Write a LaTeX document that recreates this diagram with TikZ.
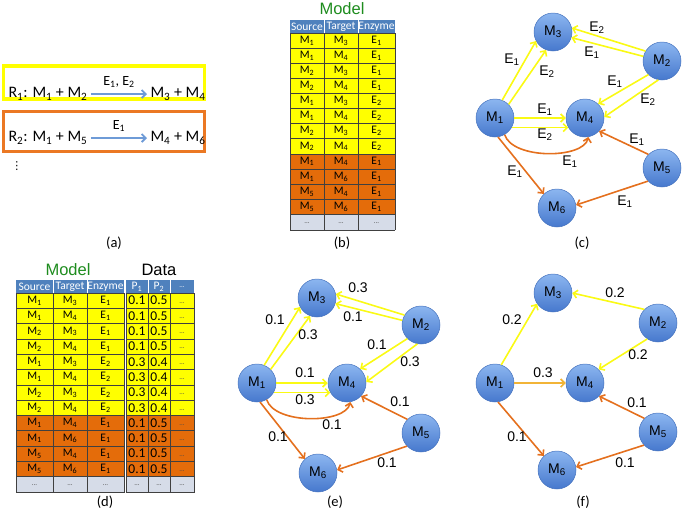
\documentclass[tikz,border=0pt]{standalone}
\usepackage{fontspec}
\setmainfont{Carlito}
\newfontfamily\graphfont{Liberation Sans}
\newfontfamily\symfont{DejaVu Sans}
\usetikzlibrary{arrows.meta}

\definecolor{hdrblue}{RGB}{79,129,189}
\definecolor{rowyel}{RGB}{255,255,0}
\definecolor{roworn}{RGB}{228,108,10}
\definecolor{rowdot}{RGB}{214,220,232}
\definecolor{edgeyel}{RGB}{250,250,20}
\definecolor{edgeorn}{RGB}{228,112,30}
\definecolor{edgemix}{RGB}{242,180,55}
\definecolor{boxorn}{RGB}{235,120,35}
\definecolor{rxnblue}{RGB}{110,155,215}
\definecolor{nodetop}{RGB}{140,182,240}
\definecolor{nodebot}{RGB}{70,120,205}
\definecolor{nodeline}{RGB}{70,115,190}
\definecolor{modelgreen}{RGB}{30,140,30}

\newcommand{\ix}[1]{\textsubscript{#1}}
\newcommand{\fsz}[1]{\fontsize{#1}{#1}\selectfont}

% source/target/enzyme/P1/P2/colour of each table row
\def\modelrows{1/3/1/0.1/0.5/rowyel,1/4/1/0.1/0.5/rowyel,2/3/1/0.1/0.5/rowyel,2/4/1/0.1/0.5/rowyel,%
1/3/2/0.3/0.4/rowyel,1/4/2/0.3/0.4/rowyel,2/3/2/0.3/0.4/rowyel,2/4/2/0.3/0.4/rowyel,%
1/4/1/0.1/0.5/roworn,1/6/1/0.1/0.5/roworn,5/4/1/0.1/0.5/roworn,5/6/1/0.1/0.5/roworn}

\tikzset{
  metab/.style={circle, minimum size=38pt, inner sep=0pt, draw=nodeline, line width=0.5pt,
    top color=nodetop, bottom color=nodebot, font=\graphfont\fsz{14}},
  ylarrow/.style={draw=edgeyel, line width=1.6pt, -{Straight Barb[length=4pt,width=8pt]}},
  orarrow/.style={ylarrow, draw=edgeorn},
  mixarrow/.style={ylarrow, draw=edgemix},
  wlabel/.style={font=\graphfont\fsz{14}, inner sep=0pt},
  rxn/.style={font=\fsz{16}},
  rxnarrow/.style={draw=rxnblue, line width=1.8pt, -{Straight Barb[length=4pt,width=8pt]}},
  cell/.style={font=\fsz{11.5}, inner sep=0pt},
  hdr/.style={font=\fsz{11.5}, text=white, inner sep=0pt},
  num/.style={font=\fsz{13.5}, inner sep=0pt},
  dots/.style={font=\fsz{7}, text=black!70, inner sep=0pt},
  tline/.style={draw=black!75, line width=0.5pt},
  caption/.style={font=\fsz{14.5}},
  title/.style={font=\graphfont\fsz{16.5}},
}

\begin{document}
\begin{tikzpicture}[x=1pt, y=-1pt]
    \useasboundingbox (0,0) rectangle (685,517);

    % (a) reactions
    \draw[draw=rowyel, line width=3.3pt] (3.5,66) rectangle (204.5,99);
    \draw[draw=boxorn, line width=3.3pt] (3.5,111.5) rectangle (204.5,151.5);
    \node[rxn, anchor=west] (r1-in) at (5,94) {R\ix{1}: M\ix{1} + M\ix{2}};
    \node[rxn, anchor=west] (r1-out) at (147,94) {M\ix{3} + M\ix{4}};
    \draw[rxnarrow] (r1-in) -- (r1-out) node[midway, above=2pt, font=\fsz{14}] {E\ix{1}, E\ix{2}};
    \node[rxn, anchor=west] (r2-in) at (5,138) {R\ix{2}: M\ix{1} + M\ix{5}};
    \node[rxn, anchor=west] (r2-out) at (147,138) {M\ix{4} + M\ix{6}};
    \draw[rxnarrow] (r2-in) -- (r2-out) node[midway, above=2pt, font=\fsz{14}] {E\ix{1}};
    \node[font=\symfont\fsz{11}, inner sep=0pt] (r-more) at (17,166) {⋮};

    % (b) model table
    \node[title, text=modelgreen] (b-title) at (342,9) {Model};
    \begin{scope}[shift={(290,20)}]
        \fill[hdrblue] (0,0) rectangle (105,13);
        \node[hdr] (b-h1) at (17,6.5) {Source};
        \node[hdr] (b-h2) at (51,6.5) {Target};
        \node[hdr] (b-h3) at (86.5,6.5) {Enzyme};
        \foreach \src/\tgt/\enz/\pone/\ptwo/\rowcol [count=\i] in \modelrows {
            \fill[fill=\rowcol] (0,{13+(\i-1)*15.1}) rectangle (105,{13+\i*15.1});
            \node[cell] (b-\i-1) at (17,{13+(\i-0.5)*15.1}) {M\ix{\src}};
            \node[cell] (b-\i-2) at (51,{13+(\i-0.5)*15.1}) {M\ix{\tgt}};
            \node[cell] (b-\i-3) at (86.5,{13+(\i-0.5)*15.1}) {E\ix{\enz}};
        }
        \fill[rowdot] (0,194.2) rectangle (105,210.2);
        \node[dots] (b-13-1) at (17,203) {...};
        \node[dots] (b-13-2) at (51,203) {...};
        \node[dots] (b-13-3) at (86.5,203) {...};
        \foreach \k in {0,...,12}
            \draw[tline] (0,{13+\k*15.1}) -- (105,{13+\k*15.1});
        \draw[tline] (0,210.2) -- (105,210.2);
        \draw[tline] (0,13) -- (0,210.2) (34,13) -- (34,210.2) (68,13) -- (68,210.2) (105,13) -- (105,210.2);
        \draw[white, line width=0.8pt] (34,0) -- (34,13) (68,0) -- (68,13);
    \end{scope}

    % (d) model and data tables
    \node[title, text=modelgreen] (d-title1) at (68,270) {Model};
    \node[title] (d-title2) at (159,270) {Data};
    \begin{scope}[shift={(16,280)}]
        \fill[hdrblue] (0,0) rectangle (108,13);
        \fill[hdrblue] (110,0) rectangle (178,13);
        \node[hdr] (d-h1) at (18.5,6.5) {Source};
        \node[hdr] (d-h2) at (54,6.5) {Target};
        \node[hdr] (d-h3) at (89.5,6.5) {Enzyme};
        \node[hdr] (d-h4) at (121,6.5) {P\ix{1}};
        \node[hdr] (d-h5) at (143,6.5) {P\ix{2}};
        \node[hdr, font=\fsz{7}] (d-h6) at (166,7) {...};
        \foreach \src/\tgt/\enz/\pone/\ptwo/\rowcol [count=\i] in \modelrows {
            \fill[fill=\rowcol] (0,{13+(\i-1)*15.3}) rectangle (108,{13+\i*15.3});
            \fill[fill=\rowcol] (110,{13+(\i-1)*15.3}) rectangle (178,{13+\i*15.3});
            \node[cell] (d-\i-1) at (18.5,{13+(\i-0.5)*15.3}) {M\ix{\src}};
            \node[cell] (d-\i-2) at (54,{13+(\i-0.5)*15.3}) {M\ix{\tgt}};
            \node[cell] (d-\i-3) at (89.5,{13+(\i-0.5)*15.3}) {E\ix{\enz}};
            \node[num] (d-\i-4) at (121,{13+(\i-0.5)*15.3}) {\pone};
            \node[num] (d-\i-5) at (143,{13+(\i-0.5)*15.3}) {\ptwo};
            \node[dots] (d-\i-6) at (166,{13+(\i-0.5)*15.3+2}) {...};
        }
        \fill[rowdot] (0,196.6) rectangle (108,212.6);
        \fill[rowdot] (110,196.6) rectangle (178,212.6);
        \node[dots] (d-13-1) at (18.5,205.5) {...};
        \node[dots] (d-13-2) at (54,205.5) {...};
        \node[dots] (d-13-3) at (89.5,205.5) {...};
        \node[dots] (d-13-4) at (121,205.5) {...};
        \node[dots] (d-13-5) at (143,205.5) {...};
        \node[dots] (d-13-6) at (166,205.5) {...};
        \foreach \k in {0,...,12}
            \draw[tline] (0,{13+\k*15.3}) -- (108,{13+\k*15.3}) (110,{13+\k*15.3}) -- (178,{13+\k*15.3});
        \draw[tline] (0,212.6) -- (108,212.6) (110,212.6) -- (178,212.6);
        \draw[tline] (0,13) -- (0,212.6) (37,13) -- (37,212.6) (71,13) -- (71,212.6) (108,13) -- (108,212.6);
        \draw[tline] (110,13) -- (110,212.6) (132,13) -- (132,212.6) (154,13) -- (154,212.6) (178,13) -- (178,212.6);
        \draw[white, line width=0.8pt] (37,0) -- (37,13) (71,0) -- (71,13) (132,0) -- (132,13) (154,0) -- (154,13);
    \end{scope}

    % (c) network with enzymes
    \begin{scope}[shift={(495,118)}]
        \node[metab] (c1) at (0,0) {M\ix{1}};
        \node[metab] (c2) at (167,-57) {M\ix{2}};
        \node[metab] (c3) at (58,-86) {M\ix{3}};
        \node[metab] (c4) at (90,0) {M\ix{4}};
        \node[metab] (c5) at (167,50) {M\ix{5}};
        \node[metab] (c6) at (62,90) {M\ix{6}};
        % R1
        \draw[ylarrow] (c1.68) -- (c3.208);
        \draw[ylarrow] (c1.45) -- (c3.249);
        \draw[ylarrow] (c2.149) -- (c3.12);
        \draw[ylarrow] (c2.166) -- (c3.-17);
        \draw[ylarrow] (c2.225) -- (c4.47);
        \draw[ylarrow] (c2.259) -- (c4.3);
        \draw[ylarrow] (c1.0) -- (c4.180);
        \draw[ylarrow] (c1.-30) -- (c4.-150);
        % R2
        \draw[orarrow] (c1.-60) .. controls +(8,25) and +(-5,22) .. (c4.-80);
        \draw[orarrow] (c1.-81) -- (c6.133);
        \draw[orarrow] (c5.135) -- (c4.-43);
        \draw[orarrow] (c5.-137) -- (c6.9);
        % enzyme labels
        \node[wlabel] (c-l1) at (17,-58) {E\ix{1}};
        \node[wlabel] (c-l2) at (52,-46) {E\ix{2}};
        \node[wlabel] (c-l3) at (102,-90) {E\ix{2}};
        \node[wlabel] (c-l4) at (97,-65) {E\ix{1}};
        \node[wlabel] (c-l5) at (120,-36) {E\ix{1}};
        \node[wlabel] (c-l6) at (153,-18) {E\ix{2}};
        \node[wlabel] (c-l7) at (50,-8) {E\ix{1}};
        \node[wlabel] (c-l8) at (50,17) {E\ix{2}};
        \node[wlabel] (c-l9) at (75,44) {E\ix{1}};
        \node[wlabel] (c-l10) at (20,54) {E\ix{1}};
        \node[wlabel] (c-l11) at (142,22) {E\ix{1}};
        \node[wlabel] (c-l12) at (130,84) {E\ix{1}};
    \end{scope}

    % (e) network with data values
    \begin{scope}[shift={(257,383)}]
        \node[metab] (e1) at (0,0) {M\ix{1}};
        \node[metab] (e2) at (164,-58) {M\ix{2}};
        \node[metab] (e3) at (60,-85) {M\ix{3}};
        \node[metab] (e4) at (90,0) {M\ix{4}};
        \node[metab] (e5) at (164,50) {M\ix{5}};
        \node[metab] (e6) at (61,90) {M\ix{6}};
        % R1
        \draw[ylarrow] (e1.68) -- (e3.208);
        \draw[ylarrow] (e1.45) -- (e3.249);
        \draw[ylarrow] (e2.149) -- (e3.12);
        \draw[ylarrow] (e2.166) -- (e3.-17);
        \draw[ylarrow] (e2.225) -- (e4.47);
        \draw[ylarrow] (e2.259) -- (e4.3);
        \draw[ylarrow] (e1.0) -- (e4.180);
        \draw[ylarrow] (e1.-30) -- (e4.-150);
        % R2
        \draw[orarrow] (e1.-60) .. controls +(8,25) and +(-5,22) .. (e4.-80);
        \draw[orarrow] (e1.-81) -- (e6.133);
        \draw[orarrow] (e5.135) -- (e4.-43);
        \draw[orarrow] (e5.-137) -- (e6.9);
        % values
        \node[wlabel] (e-l1) at (18,-63) {0.1};
        \node[wlabel] (e-l2) at (51,-48) {0.3};
        \node[wlabel] (e-l3) at (101,-95) {0.3};
        \node[wlabel] (e-l4) at (96,-66) {0.1};
        \node[wlabel] (e-l5) at (120,-38) {0.1};
        \node[wlabel] (e-l6) at (153,-21) {0.3};
        \node[wlabel] (e-l7) at (48,-10) {0.1};
        \node[wlabel] (e-l8) at (48,17) {0.3};
        \node[wlabel] (e-l9) at (75,42) {0.1};
        \node[wlabel] (e-l10) at (21,54) {0.1};
        \node[wlabel] (e-l11) at (143,19) {0.1};
        \node[wlabel] (e-l12) at (130,80) {0.1};
    \end{scope}

    % (f) merged network
    \begin{scope}[shift={(495,383)}]
        \node[metab] (f1) at (0,0) {M\ix{1}};
        \node[metab] (f2) at (163,-60) {M\ix{2}};
        \node[metab] (f3) at (58,-90) {M\ix{3}};
        \node[metab] (f4) at (90,0) {M\ix{4}};
        \node[metab] (f5) at (163,49) {M\ix{5}};
        \node[metab] (f6) at (62,87) {M\ix{6}};
        \draw[ylarrow] (f1.71) -- (f3.214);
        \draw[ylarrow] (f2.135) -- (f3.0);
        \draw[ylarrow] (f2.236) -- (f4.45);
        \draw[mixarrow] (f1.0) -- (f4.180);
        \draw[orarrow] (f1.-81) -- (f6.133);
        \draw[orarrow] (f5.135) -- (f4.-43);
        \draw[orarrow] (f5.-137) -- (f6.9);
        \node[wlabel] (f-l1) at (17,-63) {0.2};
        \node[wlabel] (f-l2) at (120,-90) {0.2};
        \node[wlabel] (f-l3) at (143,-28) {0.2};
        \node[wlabel] (f-l4) at (48,-10) {0.3};
        \node[wlabel] (f-l5) at (142,20) {0.1};
        \node[wlabel] (f-l6) at (22,54) {0.1};
        \node[wlabel] (f-l7) at (130,80) {0.1};
    \end{scope}

    % captions
    \node[caption] (cap-a) at (114,243) {(a)};
    \node[caption] (cap-b) at (342,243) {(b)};
    \node[caption] (cap-c) at (582,243) {(c)};
    \node[caption] (cap-d) at (105,502) {(d)};
    \node[caption] (cap-e) at (335,502) {(e)};
    \node[caption] (cap-f) at (583,502) {(f)};
\end{tikzpicture}
\end{document}
